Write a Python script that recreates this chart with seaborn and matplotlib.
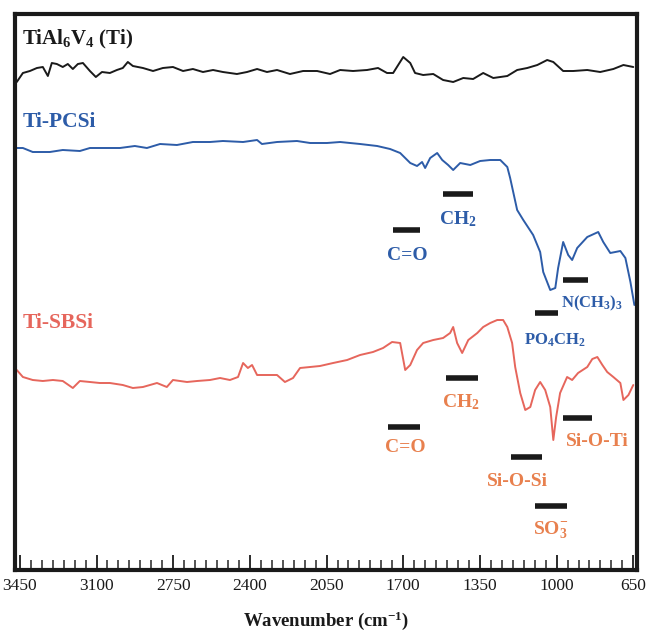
import numpy as np
import pandas as pd
import matplotlib
matplotlib.use("Agg")
import matplotlib.pyplot as plt
from matplotlib.ticker import FixedLocator, MultipleLocator
import seaborn as sns

# ---- data (wavenumber in cm-1, transmittance a.u.) ----
ti_wn = [3464, 3436, 3404, 3372, 3345, 3322, 3304, 3281, 3254, 3231, 3208, 3185, 3162,
         3130, 3103, 3075, 3039, 3007, 2980, 2957, 2934, 2888, 2842, 2797, 2751, 2705,
         2660, 2614, 2568, 2523, 2459, 2413, 2367, 2322, 2276, 2217, 2157, 2093, 2034,
         1988, 1929, 1865, 1815, 1774, 1746, 1700, 1668, 1646, 1609, 1563, 1518, 1472,
         1426, 1381, 1335, 1289, 1225, 1180, 1134, 1088, 1043, 1015, 970, 924, 860, 801,
         741, 695, 650]
ti_T = [488, 497, 499, 502, 503, 494, 507, 506, 503, 506, 501, 506, 507,
        499, 493, 498, 497, 500, 502, 508, 504, 502, 499, 502, 503, 499,
        501, 498, 500, 498, 496, 498, 501, 498, 500, 496, 499, 499, 496,
        500, 499, 500, 502, 497, 497, 513, 507, 497, 495, 496, 490, 488,
        492, 491, 497, 492, 494, 500, 502, 505, 510, 508, 499, 499, 500, 498,
        501, 505, 503]

pcsi_wn = [3464, 3436, 3391, 3313, 3254, 3176, 3130, 3053, 2993, 2925, 2870, 2810, 2733,
           2660, 2582, 2523, 2431, 2367, 2345, 2276, 2185, 2125, 2048, 1988, 1897, 1819,
           1760, 1714, 1668, 1637, 1614, 1600, 1577, 1545, 1522, 1495, 1472, 1440, 1394,
           1349, 1303, 1257, 1225, 1212, 1198, 1180, 1152, 1107, 1075, 1061, 1029, 1006,
           993, 970, 947, 929, 906, 860, 810, 787, 755, 709, 686, 663, 645]
pcsi_T = [422, 422, 418, 418, 420, 419, 422, 422, 422, 424, 422, 426, 425,
          428, 428, 429, 428, 430, 426, 428, 429, 427, 427, 428, 426, 424,
          421, 417, 407, 404, 408, 402, 412, 417, 410, 405, 400, 407, 405,
          409, 410, 410, 403, 392, 378, 360, 350, 335, 318, 298, 280, 282,
          302, 328, 315, 310, 322, 333, 338, 328, 317, 319, 312, 288, 265]

sbsi_wn = [3464, 3436, 3391, 3345, 3299, 3254, 3208, 3176, 3130, 3085, 3039, 2980, 2934,
           2888, 2824, 2779, 2751, 2687, 2641, 2582, 2536, 2491, 2454, 2431, 2409, 2390,
           2367, 2322, 2276, 2240, 2203, 2171, 2125, 2080, 2020, 1956, 1897, 1838, 1792,
           1751, 1714, 1691, 1668, 1637, 1609, 1563, 1518, 1486, 1472, 1454, 1431, 1403,
           1362, 1335, 1303, 1271, 1244, 1225, 1203, 1189, 1166, 1143, 1120, 1098, 1075,
           1052, 1029, 1015, 1002, 984, 952, 929, 902, 860, 837, 814, 791, 769, 741, 709,
           695, 672, 650]
sbsi_T = [200, 193, 190, 189, 190, 189, 182, 189, 188, 187, 187, 185, 182,
          183, 187, 183, 190, 188, 189, 190, 192, 190, 193, 207, 202, 205,
          195, 195, 195, 188, 192, 202, 203, 204, 207, 210, 215, 218, 222,
          228, 227, 200, 205, 220, 227, 230, 232, 237, 243, 227, 217, 230,
          237, 243, 247, 250, 250, 243, 227, 203, 177, 160, 163, 180, 188,
          180, 163, 130, 153, 177, 193, 190, 197, 203, 211, 213, 205, 198, 193, 187,
          170, 175, 185]

# band assignments: label, bar start, bar end (cm-1), bar level, label position
pcsi_bands = ["C=O", "CH$_2$", "PO$_4$CH$_2$", "N(CH$_3$)$_3$"]
pcsi_band_lo = [1746, 1518, 1098, 970]
pcsi_band_hi = [1623, 1381, 992, 855]
pcsi_band_T = [340, 376, 257, 290]
pcsi_label_wn = [1680, 1450, 1006, 837]
pcsi_label_T = [315, 351, 230, 267]

sbsi_bands = ["C=O", "CH$_2$", "Si-O-Si", "SO$_3^{\\mathbf{-}}$", "Si-O-Ti"]
sbsi_band_lo = [1769, 1504, 1207, 1098, 970]
sbsi_band_hi = [1623, 1358, 1066, 951, 837]
sbsi_band_T = [143, 192, 113, 64, 152]
sbsi_label_wn = [1691, 1436, 1180, 1029, 814]
sbsi_label_T = [122, 168, 88, 40, 128]

major_ticks = [3450, 3100, 2750, 2400, 2050, 1700, 1350, 1000, 650]

BLACK = "#1a1a1a"
BLUE = "#2d5ca8"
RED = "#e6665c"
ORANGE = "#e8804e"

sns.set_theme(style="white")
plt.rcParams["font.family"] = ["Liberation Serif", "DejaVu Serif"]
plt.rcParams["mathtext.fontset"] = "custom"
plt.rcParams["mathtext.rm"] = "Liberation Serif"
plt.rcParams["mathtext.bf"] = "Liberation Serif:bold"
plt.rcParams["mathtext.default"] = "regular"

fig = plt.figure(figsize=(6.52, 6.31), dpi=100)
ax = fig.add_axes([15 / 652, 61 / 631, 622 / 652, 556 / 631])

df = pd.concat([
    pd.DataFrame({"wn": ti_wn, "T": ti_T, "sample": "Ti"}),
    pd.DataFrame({"wn": pcsi_wn, "T": pcsi_T, "sample": "Ti-PCSi"}),
    pd.DataFrame({"wn": sbsi_wn, "T": sbsi_T, "sample": "Ti-SBSi"}),
])
sns.lineplot(data=df, x="wn", y="T", hue="sample", estimator=None, sort=True,
             palette={"Ti": BLACK, "Ti-PCSi": BLUE, "Ti-SBSi": RED},
             linewidth=1.4, legend=False, ax=ax)

# band bars and labels
for name, lo, hi, t, lx, lt in zip(pcsi_bands, pcsi_band_lo, pcsi_band_hi,
                                   pcsi_band_T, pcsi_label_wn, pcsi_label_T):
    ax.plot([lo, hi], [t, t], color=BLACK, lw=4, solid_capstyle="butt")
    fs = 12 if name.startswith("PO") or name.startswith("N(") else 14
    ax.text(lx, lt, name, color=BLUE, fontsize=fs, fontweight="bold",
            ha="center", va="center")

for name, lo, hi, t, lx, lt in zip(sbsi_bands, sbsi_band_lo, sbsi_band_hi,
                                   sbsi_band_T, sbsi_label_wn, sbsi_label_T):
    ax.plot([lo, hi], [t, t], color=BLACK, lw=4, solid_capstyle="butt")
    ax.text(lx, lt, name, color=ORANGE, fontsize=14, fontweight="bold",
            ha="center", va="center")

# sample labels
ax.text(0.012, 0.955, "TiAl$_6$V$_4$ (Ti)", transform=ax.transAxes, color=BLACK,
        fontsize=15, fontweight="bold", ha="left", va="center")
ax.text(0.012, 0.805, "Ti-PCSi", transform=ax.transAxes, color=BLUE,
        fontsize=15.5, fontweight="bold", ha="left", va="center")
ax.text(0.012, 0.445, "Ti-SBSi", transform=ax.transAxes, color=RED,
        fontsize=15.5, fontweight="bold", ha="left", va="center")

ax.set_xlim(3472, 633)
ax.set_ylim(0, 556)
ax.xaxis.set_major_locator(FixedLocator(major_ticks))
ax.xaxis.set_minor_locator(MultipleLocator(50))
ax.tick_params(axis="x", which="major", direction="in", length=11, width=1.3,
               bottom=True, top=False, labelsize=12.5, pad=6, colors=BLACK)
ax.tick_params(axis="x", which="minor", direction="in", length=7, width=1.1,
               bottom=True, top=False)
ax.set_yticks([])
ax.set_ylabel("")
ax.set_xlabel("Wavenumber (cm$^{-1}$)", fontsize=13.5, fontweight="bold",
              labelpad=11, color=BLACK)
for s in ax.spines.values():
    s.set_linewidth(3)
    s.set_color(BLACK)

fig.savefig("out.png", dpi=100)
